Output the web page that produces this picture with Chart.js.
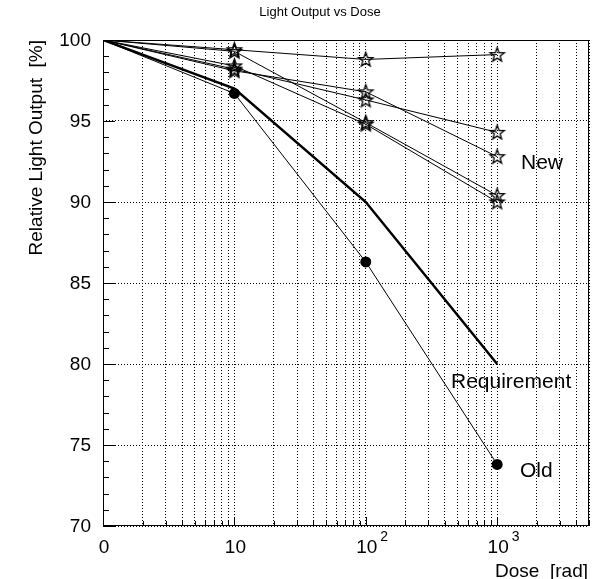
<!DOCTYPE html>
<html>
<head>
<meta charset="utf-8">
<script src="https://cdn.jsdelivr.net/npm/chart.js@4.4.1/dist/chart.umd.min.js"></script>
<style>
  html, body { margin: 0; padding: 0; background: #fff; }
  canvas { display: block; }
</style>
</head>
<body>
<canvas id="chart" width="599" height="579"></canvas>
<script>
// dose points (the "0" on the axis is drawn at 1 rad)
const doses = [1, 10, 100, 1000];

// new samples, relative light output [%]
const newA = [100, 99.4, 98.8, 99.1];
const newB = [100, 99.3, 94.9, 90.4];
const newC = [100, 98.1, 96.8, 92.8];
const newD = [100, 98.2, 96.3, 94.3];
const newE = [100, 98.4, 94.8, 90.0];

const oldSample = [100, 96.7, 86.3, 73.8];
const requirement = [100, 97, 90, 80];

// grid positions on the dose axis
const xGridValues = [1, 2, 3, 4, 5, 6, 7, 8, 9,
    10, 20, 30, 40, 50, 60, 70, 80, 90,
    100, 200, 300, 400, 500, 600, 700, 800, 900,
    1000, 2000, 3000, 4000, 5000];
const xMajorLabels = [[1, "0", ""], [10, "10", ""], [100, "10", "2"], [1000, "10", "3"]];
const yTickValues = [70, 75, 80, 85, 90, 95, 100];

const FONT = 'Arial, "Liberation Sans", Helvetica, sans-serif';

function makeStar() {
    const c = document.createElement("canvas");
    c.width = 19;
    c.height = 19;
    const g = c.getContext("2d");
    g.beginPath();
    for (let i = 0; i < 10; i++) {
        const r = i % 2 ? 3.1 : 7.5;
        const a = -Math.PI / 2 + i * Math.PI / 5;
        const px = 9.5 + r * Math.cos(a);
        const py = 10 + r * Math.sin(a);
        if (i === 0) g.moveTo(px, py); else g.lineTo(px, py);
    }
    g.closePath();
    g.strokeStyle = "#000";
    g.lineWidth = 1.3;
    g.stroke();
    return c;
}
const star = makeStar();

function toPoints(values) {
    return values.map(function (v, i) { return { x: doses[i], y: v }; });
}

function starSet(values) {
    return {
        data: toPoints(values),
        borderColor: "#000",
        borderWidth: 1,
        pointStyle: star,
        pointRadius: function (ctx) { return ctx.dataIndex === 0 ? 0 : 7; },
        tension: 0,
    };
}

const frameAndText = {
    id: "frameAndText",
    afterDatasetsDraw(chart) {
        const ctx = chart.ctx;
        const a = chart.chartArea;
        const xs = chart.scales.x;
        const ys = chart.scales.y;
        ctx.save();
        ctx.strokeStyle = "#000";
        ctx.lineWidth = 1;
        ctx.strokeRect(Math.round(a.left) + 0.5, Math.round(a.top) + 0.5,
            Math.round(a.right - a.left) - 1, Math.round(a.bottom - a.top) - 1);

        // y ticks, inside the frame
        ctx.beginPath();
        for (let v = 70; v <= 100; v++) {
            const py = Math.round(ys.getPixelForValue(v)) + 0.5;
            const len = v % 5 === 0 ? 12 : 6;
            ctx.moveTo(a.left, py);
            ctx.lineTo(a.left + len, py);
        }
        // x ticks
        xGridValues.forEach(function (v) {
            const px = Math.round(xs.getPixelForValue(v)) + 0.5;
            const major = [1, 10, 100, 1000].indexOf(v) >= 0;
            ctx.moveTo(px, a.bottom);
            ctx.lineTo(px, a.bottom - (major ? 9 : 5));
        });
        ctx.stroke();

        ctx.fillStyle = "#000";
        // y tick labels
        ctx.font = "19px " + FONT;
        ctx.textAlign = "right";
        ctx.textBaseline = "middle";
        yTickValues.forEach(function (v) {
            ctx.fillText(String(v), a.left - 12, ys.getPixelForValue(v) + 1);
        });
        // x tick labels
        xMajorLabels.forEach(function (m) {
            const px = xs.getPixelForValue(m[0]);
            ctx.font = "19px " + FONT;
            ctx.textAlign = "center";
            ctx.textBaseline = "middle";
            ctx.fillText(m[1], px + 1, a.bottom + 22);
            if (m[2]) {
                const w = ctx.measureText(m[1]).width;
                ctx.font = "14px " + FONT;
                ctx.textAlign = "left";
                ctx.fillText(m[2], px + 1 + w / 2 + 3, a.bottom + 11);
            }
        });
        // axis titles
        ctx.font = "19px " + FONT;
        ctx.textAlign = "right";
        ctx.textBaseline = "alphabetic";
        ctx.fillText("Dose  [rad]", a.right - 1, 577);
        ctx.save();
        ctx.translate(42, a.top);
        ctx.rotate(-Math.PI / 2);
        ctx.textAlign = "right";
        ctx.fillText("Relative Light Output  [%]", 0, 0);
        ctx.restore();

        // title
        ctx.font = "13px " + FONT;
        ctx.textAlign = "center";
        ctx.textBaseline = "middle";
        ctx.fillText("Light Output vs Dose", 320, 12);

        // series labels
        ctx.font = "21px " + FONT;
        ctx.textAlign = "left";
        ctx.fillText("New", 521, 163);
        ctx.fillText("Requirement", 451, 382);
        ctx.fillText("Old", 520, 471);
        ctx.restore();
    }
};

new Chart(document.getElementById("chart"), {
    type: "line",
    data: {
        datasets: [
            starSet(newA),
            starSet(newB),
            starSet(newC),
            starSet(newD),
            starSet(newE),
            {
                data: toPoints(oldSample),
                borderColor: "#000",
                borderWidth: 1,
                backgroundColor: "#000",
                pointStyle: "circle",
                pointRadius: function (ctx) { return ctx.dataIndex === 0 ? 0 : 5.5; },
                pointBorderWidth: 0,
            },
            {
                data: toPoints(requirement),
                borderColor: "#000",
                borderWidth: 2.5,
                pointRadius: 0,
            },
        ],
    },
    options: {
        responsive: false,
        animation: false,
        events: [],
        layout: { padding: { left: 103, right: 10, top: 40, bottom: 53 } },
        plugins: {
            legend: { display: false },
            tooltip: { enabled: false },
            title: { display: false },
        },
        scales: {
            x: {
                type: "logarithmic",
                min: 1,
                max: 5000,
                afterBuildTicks: function (scale) {
                    scale.ticks = xGridValues.map(function (v) { return { value: v }; });
                },
                ticks: { display: false },
                grid: { color: "#000", lineWidth: 1, drawTicks: false },
                border: { display: false, dash: [1, 2] },
            },
            y: {
                type: "linear",
                min: 70,
                max: 100,
                afterBuildTicks: function (scale) {
                    scale.ticks = yTickValues.map(function (v) { return { value: v }; });
                },
                ticks: { display: false },
                grid: { color: "#000", lineWidth: 1, drawTicks: false },
                border: { display: false, dash: [1, 2] },
            },
        },
    },
    plugins: [frameAndText],
});
</script>
</body>
</html>
